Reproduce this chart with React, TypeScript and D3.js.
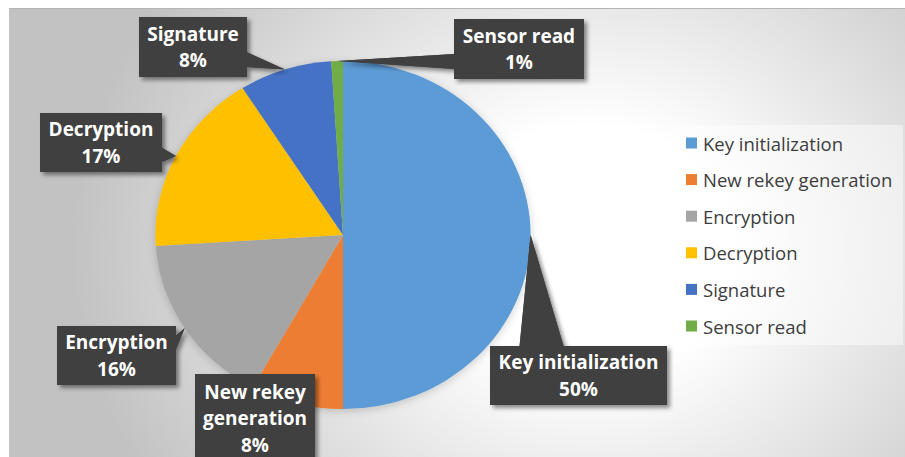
import React from 'react';
import * as d3 from 'd3';

const categories = ['Key initialization', 'New rekey generation', 'Encryption', 'Decryption', 'Signature', 'Sensor read'];
const values = [50, 8, 16, 17, 8, 1];
const colors = ['#5B9BD5', '#ED7D31', '#A5A5A5', '#FFC000', '#4472C4', '#70AD47'];
const labelLines = [['Key initialization'], ['New rekey', 'generation'], ['Encryption'], ['Decryption'], ['Signature'], ['Sensor read']];

// layout of the callout boxes (not data)
const labelBoxes = [
  { x: 490, y: 346, w: 177, h: 59 },
  { x: 195, y: 374, w: 120, h: 88 },
  { x: 57, y: 326, w: 119, h: 59 },
  { x: 40, y: 113, w: 122, h: 59 },
  { x: 139, y: 17, w: 108, h: 60 },
  { x: 454, y: 19, w: 130, h: 60 },
];

const W = 905;
const H = 457;
const CX = 343;
const CY = 235;
const R = 174;
const SX = 1.078;

const FONT = '"Open Sans", "DejaVu Sans", sans-serif';

export default function App() {
  const total = d3.sum(values);
  const pie = d3.pie<number>().sort(null).value((d) => d);
  const arcs = pie(values);
  const arc = d3.arc<d3.PieArcDatum<number>>().innerRadius(0).outerRadius(R);

  const legendY = d3.scaleLinear().domain([0, categories.length - 1]).range([143, 326]);

  const callouts = arcs.map((a, i) => {
    const mid = (a.startAngle + a.endAngle) / 2;
    const tx = CX + SX * R * Math.sin(mid);
    const ty = CY - R * Math.cos(mid);
    const b = labelBoxes[i];
    const bcx = b.x + b.w / 2;
    const bcy = b.y + b.h / 2;
    const inside = tx >= b.x && tx <= b.x + b.w && ty >= b.y && ty <= b.y + b.h;
    let wedge: string | null = null;
    if (!inside) {
      const ndx = (tx - bcx) / b.w;
      const ndy = (ty - bcy) / b.h;
      if (Math.abs(ndx) > Math.abs(ndy)) {
        const ex = ndx > 0 ? b.x + b.w - 0.5 : b.x + 0.5;
        const y1 = ty < bcy ? b.y + b.h / 6 : b.y + (7 * b.h) / 12;
        const y2 = ty < bcy ? b.y + (5 * b.h) / 12 : b.y + (5 * b.h) / 6;
        wedge = `M${ex},${y1}L${tx},${ty}L${ex},${y2}Z`;
      } else {
        const ey = ndy > 0 ? b.y + b.h - 0.5 : b.y + 0.5;
        const x1 = tx < bcx ? b.x + b.w / 6 : b.x + (7 * b.w) / 12;
        const x2 = tx < bcx ? b.x + (5 * b.w) / 12 : b.x + (5 * b.w) / 6;
        wedge = `M${x1},${ey}L${tx},${ty}L${x2},${ey}Z`;
      }
    }
    const pct = `${Math.round((values[i] / total) * 100)}%`;
    const lines = [...labelLines[i], pct];
    return { b, wedge, lines, bcx, bcy };
  });

  return (
    <div style={{ position: 'absolute', left: 0, top: 0, width: W, height: H }}>
      <svg width={W} height={H} viewBox={`0 0 ${W} ${H}`} style={{ display: 'block' }}>
        <defs>
          <radialGradient id="bg" gradientUnits="userSpaceOnUse" cx={590} cy={250} r={520}
            gradientTransform="translate(590,250) scale(1,0.85) translate(-590,-250)">
            <stop offset="0" stopColor="#ffffff" />
            <stop offset="0.28" stopColor="#ffffff" />
            <stop offset="1" stopColor="#c2c2c2" />
          </radialGradient>
          <filter id="shadow" x="-20%" y="-20%" width="150%" height="150%">
            <feDropShadow dx="3" dy="3" stdDeviation="2" floodColor="#000" floodOpacity="0.45" />
          </filter>
          <filter id="pieShadow" x="-20%" y="-20%" width="140%" height="140%">
            <feDropShadow dx="0" dy="2" stdDeviation="4" floodColor="#000" floodOpacity="0.18" />
          </filter>
        </defs>
        <rect x={0} y={0} width={W} height={H} fill="#ffffff" />
        <rect x={9} y={8} width={W - 9} height={H - 8} fill="url(#bg)" />
        <line x1={9} x2={W} y1={8.5} y2={8.5} stroke="#b5b5b5" strokeWidth={1} />

        <g transform={`translate(${CX},${CY}) scale(${SX},1)`} filter="url(#pieShadow)">
          {arcs.map((a, i) => (
            <path key={categories[i]} d={arc(a) || ''} fill={colors[i]} />
          ))}
        </g>

        <rect x={672} y={125} width={231} height={220} fill="#ffffff" fillOpacity={0.45} />
        {categories.map((c, i) => (
          <g key={c}>
            <rect x={686} y={legendY(i) - 5.5} width={11} height={11} fill={colors[i]} />
            <text x={703} y={legendY(i)} dominantBaseline="central" fontFamily={FONT} fontSize={18.5} fill="#3d3d3d">
              {c}
            </text>
          </g>
        ))}

        {callouts.map((c, i) => (
          <g key={categories[i]}>
            <g filter="url(#shadow)">
              <rect x={c.b.x} y={c.b.y} width={c.b.w} height={c.b.h} fill="#404040" />
              {c.wedge && <path d={c.wedge} fill="#404040" />}
            </g>
            {c.wedge && <path d={c.wedge} fill="#404040" />}
            <rect x={c.b.x} y={c.b.y} width={c.b.w} height={c.b.h} fill="#404040" />
            {c.lines.map((ln, j) => (
              <text key={j} x={c.bcx} y={c.bcy + (j - (c.lines.length - 1) / 2) * 26.5}
                textAnchor="middle" dominantBaseline="central" fontFamily={FONT}
                fontWeight={700} fontSize={19} fill="#ffffff">
                {ln}
              </text>
            ))}
          </g>
        ))}
      </svg>
    </div>
  );
}
